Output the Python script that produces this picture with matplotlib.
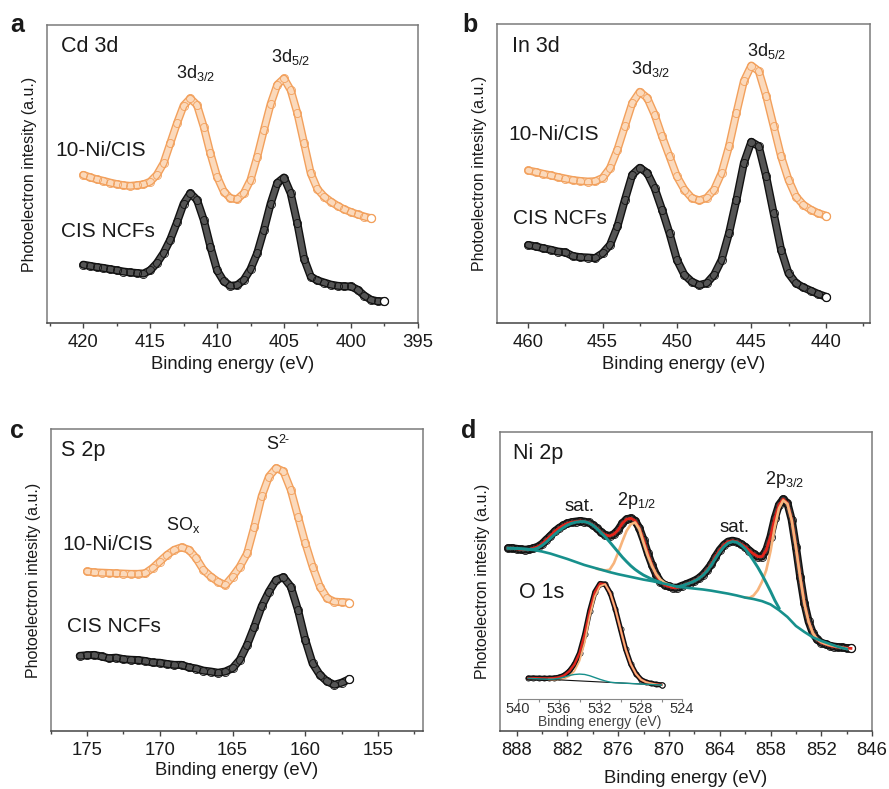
import numpy as np
import matplotlib.pyplot as plt
from matplotlib.ticker import MultipleLocator

plt.rcParams['font.family'] = ['Liberation Sans', 'DejaVu Sans']
plt.rcParams['mathtext.fontset'] = 'custom'
plt.rcParams['mathtext.rm'] = 'Liberation Sans'
plt.rcParams['mathtext.it'] = 'Liberation Sans:italic'
plt.rcParams['mathtext.bf'] = 'Liberation Sans:bold'

ORANGE = '#f2a05c'
ORANGE_IN = '#fbd9bb'
BLACK = '#111111'
BLACK_IN = '#555555'
RED = '#e3241b'
TEAL = '#17908c'
FIT_ORANGE = '#f7b47c'
TXT = '#1a1a1a'

# every spectrum is sampled at 0.5 eV, counting down from its start energy
# intensities are in arbitrary units (0-100 across the panel height)

# Cd 3d
cd_cis_start = 420.0
cd_cis = [19.5, 19.1, 18.7, 18.4, 18.0, 17.6, 17.2, 16.9, 16.7, 16.5,
          17.6, 20.0, 23.4, 27.9, 33.7, 40.0, 43.5, 41.3, 34.6, 25.6,
          17.6, 13.9, 12.4, 12.6, 14.4, 18.0, 23.4, 31.2, 40.0, 47.0,
          48.8, 43.5, 33.4, 21.5, 15.5, 14.2, 13.5, 12.8, 12.4, 12.2,
          12.2, 11.1, 9.1, 7.7, 7.2, 7.2]
cd_ni_start = 420.0
cd_ni = [49.7, 48.9, 48.2, 47.7, 47.1, 46.6, 46.2, 46.0, 46.2, 46.5,
         47.4, 49.7, 53.6, 60.3, 67.0, 73.0, 75.4, 73.2, 65.9, 56.9,
         49.1, 44.1, 41.8, 41.5, 43.5, 48.0, 55.8, 64.8, 73.5, 80.0,
         82.1, 78.2, 70.4, 60.3, 50.2, 44.9, 42.4, 40.7, 39.3, 38.1,
         37.2, 36.4, 35.7, 35.1]

# In 3d
in_cis_start = 460.0
in_cis = [26.0, 25.5, 24.9, 24.4, 23.8, 23.5, 22.3, 21.9, 21.8, 21.6,
          23.2, 26.0, 32.2, 41.1, 49.5, 51.8, 50.1, 45.0, 37.8, 29.9,
          21.0, 16.0, 13.7, 12.6, 13.2, 16.0, 21.0, 29.9, 41.1, 53.4,
          60.5, 59.0, 48.9, 36.6, 24.4, 16.5, 13.2, 11.8, 10.7, 9.6,
          8.7]
in_ni_start = 460.0
in_ni = [50.9, 50.4, 49.8, 49.3, 48.7, 48.2, 47.7, 47.4, 47.2, 47.3,
         48.4, 51.7, 57.9, 65.7, 73.5, 77.2, 75.2, 69.6, 62.3, 55.6,
         48.9, 44.5, 41.7, 40.9, 41.7, 44.5, 50.1, 59.0, 70.2, 80.8,
         86.0, 84.1, 75.8, 65.7, 55.6, 47.8, 42.2, 39.4, 37.8, 36.6,
         35.8]

# S 2p
s_cis_start = 175.5
s_cis = [24.8, 25.0, 25.1, 24.6, 24.0, 24.2, 23.7, 23.5, 23.4, 23.1,
         22.6, 22.5, 22.1, 21.8, 21.8, 21.0, 20.6, 19.9, 19.6, 19.2,
         19.6, 20.7, 23.5, 28.4, 34.5, 41.2, 46.1, 50.0, 50.9, 47.8,
         40.0, 30.1, 22.3, 18.5, 16.3, 15.2, 15.9, 17.0]
s_ni_start = 175.0
s_ni = [52.8, 52.5, 52.4, 52.3, 52.2, 52.1, 52.0, 52.0, 52.2, 53.9,
        56.1, 58.3, 60.0, 60.8, 60.0, 57.2, 53.3, 51.1, 49.4, 48.3,
        51.1, 54.4, 58.8, 67.7, 77.7, 84.3, 87.1, 86.0, 79.9, 71.0,
        62.2, 54.4, 47.8, 43.9, 42.8, 42.6, 42.5]

# Ni 2p measured spectrum
ni_start = 889.0
ni_data = [61.0, 61.0, 60.8, 60.6, 60.5, 60.6, 61.0, 61.5, 62.4, 63.8,
           65.1, 66.6, 67.7, 68.6, 69.3, 69.7, 69.9, 70.1, 69.9, 69.6,
           68.8, 67.7, 66.3, 65.4, 65.1, 65.7, 67.1, 69.3, 70.7, 71.0,
           70.2, 67.7, 63.8, 59.3, 55.4, 52.1, 49.8, 48.7, 48.2, 47.8,
           47.8, 48.4, 48.9, 49.5, 50.1, 50.9, 52.1, 53.7, 55.6, 58.2,
           60.4, 62.1, 63.2, 63.5, 63.2, 62.4, 61.5, 60.2, 59.1, 58.2,
           58.2, 60.4, 64.9, 71.0, 75.5, 77.4, 76.0, 70.5, 61.5, 51.5,
           42.6, 36.5, 32.6, 30.5, 29.4, 28.9, 28.4, 28.1, 27.9, 27.8,
           27.6, 27.5]
# Ni 2p fit: background (1 eV steps) and components drawn on top of it
ni_bg_start = 889.0
ni_bg = [61.0, 60.9, 60.7, 60.4, 59.9, 59.2, 58.3, 57.4, 56.4, 55.4,
         54.6, 53.8, 53.0, 52.3, 51.7, 51.1, 50.5, 50.0, 49.4, 48.8,
         48.1, 47.8, 47.5, 47.2, 46.8, 46.3, 45.8, 45.2, 44.5, 44.0,
         43.3, 42.2, 40.3, 38.0, 35.0, 33.0, 31.2, 30.0, 29.0, 28.0,
         27.3]
sat1_start = 889.0
sat1 = [61.0, 61.0, 60.9, 60.8, 60.7, 60.6, 60.6, 61.0, 61.9, 63.0,
        64.3, 65.6, 66.8, 67.8, 68.7, 69.3, 69.7, 69.9, 69.9, 69.5,
        68.7, 67.5, 66.1, 64.7, 63.1, 61.4, 59.7, 58.0, 56.5, 55.1,
        53.9, 52.9, 52.0, 51.3, 50.6, 50.1, 49.6]
p12_start = 878.5
p12 = [54.1, 53.8, 53.6, 53.8, 56.0, 59.5, 63.3, 66.8, 69.0, 69.6,
       67.4, 62.8, 58.5, 55.0, 52.3, 50.5, 49.4, 48.8, 48.4]
sat2_start = 869.0
sat2 = [48.1, 48.4, 48.9, 49.4, 50.0, 50.8, 51.9, 53.4, 55.3, 57.6,
        59.7, 61.5, 62.7, 63.2, 63.0, 62.1, 60.8, 58.9, 56.8, 54.6,
        52.1, 49.4, 46.6, 43.6, 41.0]
p32_start = 861.0
p32 = [44.5, 44.4, 45.2, 47.0, 49.8, 53.7, 60.0, 68.0, 74.3, 77.0,
       75.8, 70.3, 61.3, 51.3, 42.4, 36.4, 32.6, 30.6, 29.6, 29.0,
       28.6, 28.3, 28.0, 27.7, 27.4]

# O 1s inset
o_start = 539.0
o_data = [16.2, 16.2, 16.1, 16.0, 16.0, 16.2, 16.8, 18.3, 21.5, 26.8,
          35.5, 50.0, 68.5, 83.0, 89.5, 89.0, 82.0, 69.5, 54.0, 38.5,
          27.0, 19.5, 15.0, 13.0, 12.0, 11.3, 10.9]
o_bg_start = 539.0
o_bg = [16.0, 15.6, 15.2, 14.8, 14.4, 14.0, 13.6, 13.2, 12.8, 12.4,
        12.0, 11.6, 11.2, 10.8]
o_minor_start = 539.0
o_minor = [16.0, 15.8, 15.6, 15.45, 15.3, 15.4, 16.0, 17.0, 18.2, 19.0,
           19.3, 19.0, 18.0, 16.6, 15.2, 14.0, 13.0, 12.6, 12.4, 12.2,
           12.0, 11.8, 11.6, 11.4, 11.2, 11.0, 10.8]
o_main_start = 537.0
o_main = [15.2, 15.0, 15.1, 15.8, 17.6, 21.6, 29.5, 43.5, 64.0, 79.5,
          87.5, 89.0, 82.0, 69.5, 54.0, 38.5, 27.0, 19.5, 15.0, 13.0,
          12.0, 11.2, 10.8]


def energies(start, values, step=0.5):
    return start - step * np.arange(len(values))


def circles(ax, start, values, color, inner, lw=5.8, ms=5.8, mew=0.6, z=2):
    x = energies(start, values)
    y = np.asarray(values)
    kw = dict(solid_capstyle='round', solid_joinstyle='round')
    ax.plot(x, y, color=color, lw=lw, zorder=z, **kw)
    ax.plot(x, y, color=inner, lw=lw - 2.0, zorder=z + 0.1, **kw)
    ax.plot(x, y, 'o', ms=ms, mfc='none', mec=color, mew=mew, zorder=z + 0.2)
    ax.plot(x[-1], y[-1], 'o', ms=ms, mfc='white', mec=color, mew=mew + 0.3,
            zorder=z + 0.3)


def setup(ax, xlim, major, minor, labelpad):
    ax.set_xlim(*xlim)
    ax.set_ylim(0, 100)
    ax.set_yticks([])
    ax.xaxis.set_major_locator(MultipleLocator(major))
    ax.xaxis.set_minor_locator(MultipleLocator(minor))
    ax.tick_params(axis='x', which='major', direction='out', length=3.5,
                   width=1, color='#444444', labelsize=13.3, pad=4.5,
                   labelcolor=TXT)
    ax.tick_params(axis='x', which='minor', direction='out', length=2.5,
                   width=1, color='#444444')
    for s in ax.spines.values():
        s.set_color('#7a7a7a')
        s.set_linewidth(1.1)
    ax.spines['bottom'].set_color('#444444')
    ax.set_xlabel('Binding energy (eV)', fontsize=13.3, labelpad=labelpad,
                  color=TXT)
    ax.set_ylabel('Photoelectron intesity (a.u.)', fontsize=11.5,
                  labelpad=7, color=TXT)


def peak_label(ax, x, y, text, size=13):
    ax.text(x, y, text, fontsize=size, ha='center', va='center', color=TXT)


def sample_labels(ax, title, title_xy, ni_xy, cis_xy):
    ax.text(*title_xy, title, fontsize=15.5, va='center', color=TXT)
    ax.text(*ni_xy, '10-Ni/CIS', fontsize=15, va='center', color=TXT)
    ax.text(*cis_xy, 'CIS NCFs', fontsize=15, va='center', color=TXT)


fig = plt.figure(figsize=(8.89, 7.89), dpi=100)
ax_a = fig.add_axes([0.053, 0.591, 0.417, 0.377])
ax_b = fig.add_axes([0.559, 0.591, 0.420, 0.379])
ax_c = fig.add_axes([0.057, 0.074, 0.419, 0.382])
ax_d = fig.add_axes([0.562, 0.074, 0.419, 0.379])

# a: Cd 3d
setup(ax_a, (422.7, 395.0), 5, 2.5, 4)
circles(ax_a, cd_cis_start, cd_cis, BLACK, BLACK_IN)
circles(ax_a, cd_ni_start, cd_ni, ORANGE, ORANGE_IN)
sample_labels(ax_a, 'Cd 3d', (421.7, 92.7), (422.1, 58.0), (421.7, 30.5))
peak_label(ax_a, 411.6, 84.0, r'3d$_{\mathrm{3/2}}$')
peak_label(ax_a, 404.5, 89.3, r'3d$_{\mathrm{5/2}}$')

# b: In 3d
setup(ax_b, (462.1, 437.0), 5, 2.5, 4)
circles(ax_b, in_cis_start, in_cis, BLACK, BLACK_IN)
circles(ax_b, in_ni_start, in_ni, ORANGE, ORANGE_IN)
sample_labels(ax_b, 'In 3d', (461.1, 92.5), (461.3, 62.9), (461.0, 35.0))
peak_label(ax_b, 451.8, 84.7, r'3d$_{\mathrm{3/2}}$')
peak_label(ax_b, 444.0, 90.8, r'3d$_{\mathrm{5/2}}$')

# c: S 2p
setup(ax_c, (177.5, 151.9), 5, 2.5, 2)
circles(ax_c, s_cis_start, s_cis, BLACK, BLACK_IN)
circles(ax_c, s_ni_start, s_ni, ORANGE, ORANGE_IN)
sample_labels(ax_c, 'S 2p', (176.8, 93.1), (176.7, 61.6), (176.4, 34.5))
peak_label(ax_c, 168.4, 68.3, r'SO$_{\mathrm{x}}$')
ax_c.text(162.3, 94.8, 'S', fontsize=13, ha='center', va='center',
          color=TXT)
ax_c.annotate('2-', xy=(162.3, 94.8), xytext=(4.8, 3.2),
              textcoords='offset points', fontsize=9, color=TXT,
              ha='left', va='center')

# d: Ni 2p with peak fit
setup(ax_d, (890.0, 846.0), 6, 3, 8)
circles(ax_d, ni_start, ni_data, BLACK, '#3a3a3a')
ax_d.plot(energies(ni_start, ni_data), ni_data, color=RED, lw=2.0, zorder=3)
ax_d.plot(energies(p12_start, p12), p12, color=FIT_ORANGE, lw=1.9, zorder=4)
ax_d.plot(energies(p32_start, p32), p32, color=FIT_ORANGE, lw=1.9, zorder=4)
ax_d.plot(energies(ni_bg_start, ni_bg, 1.0), ni_bg, color=TEAL, lw=1.9,
          zorder=5)
ax_d.plot(energies(sat1_start, sat1), sat1, color=TEAL, lw=2.1, zorder=5)
ax_d.plot(energies(sat2_start, sat2), sat2, color=TEAL, lw=2.1, zorder=5)
ax_d.text(888.4, 92.8, 'Ni 2p', fontsize=15.5, va='center', color=TXT)
ax_d.text(887.7, 46.2, 'O 1s', fontsize=15.5, va='center', color=TXT)
peak_label(ax_d, 880.5, 75.1, 'sat.', 13.5)
peak_label(ax_d, 873.8, 77.1, r'2p$_{\mathrm{1/2}}$', 13)
peak_label(ax_d, 862.2, 68.0, 'sat.', 13.5)
peak_label(ax_d, 856.3, 84.1, r'2p$_{\mathrm{3/2}}$', 13)

# O 1s inset
ax_o = fig.add_axes([0.5827, 0.1141, 0.1845, 0.1635])
ax_o.patch.set_alpha(0)
ax_o.set_xlim(540, 524)
ax_o.set_ylim(0, 100)
ax_o.set_yticks([])
for side in ('top', 'right', 'left'):
    ax_o.spines[side].set_visible(False)
ax_o.spines['bottom'].set_color('#888888')
ax_o.xaxis.set_major_locator(MultipleLocator(4))
ax_o.xaxis.set_minor_locator(MultipleLocator(2))
ax_o.tick_params(axis='x', which='both', direction='out', length=2,
                 width=0.8, color='#888888', labelsize=10.5, pad=0.5,
                 labelcolor='#333333')
ax_o.set_xlabel('Binding energy (eV)', fontsize=10, labelpad=-1,
                color='#444444')
circles(ax_o, o_start, o_data, BLACK, '#3a3a3a', lw=3.8, ms=3.8, mew=0.5)
ax_o.plot(energies(o_start, o_data), o_data, color=RED, lw=1.6, zorder=3)
ax_o.plot(energies(o_main_start, o_main), o_main, color=FIT_ORANGE, lw=1.3,
          zorder=4)
ax_o.plot(energies(o_bg_start, o_bg, 1.0), o_bg, color=BLACK, lw=0.8,
          zorder=4)
ax_o.plot(energies(o_minor_start, o_minor), o_minor, color=TEAL, lw=1.0,
          zorder=5)

for letter, x, y in [('a', 0.011, 0.959), ('b', 0.52, 0.959),
                     ('c', 0.011, 0.445), ('d', 0.518, 0.445)]:
    fig.text(x, y, letter, fontsize=18, fontweight='bold', color=TXT,
             va='baseline')

fig.savefig('out.png', dpi=100)
